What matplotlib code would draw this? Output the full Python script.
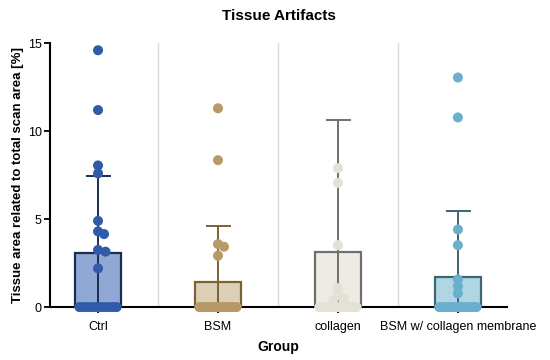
import numpy as np
import matplotlib
matplotlib.use("Agg")
import matplotlib.pyplot as plt

plt.rcParams['font.family'] = ['Liberation Sans', 'DejaVu Sans']

groups = ["Ctrl", "BSM", "collagen", "BSM w/ collagen membrane"]
means = [3.07, 1.42, 3.15, 1.72]
sds = [4.37, 3.18, 7.51, 3.75]
pts_ctrl = [14.6, 11.2, 8.05, 7.6, 4.9, 4.3, 4.15, 3.25, 3.15, 2.2] + [0.0] * 11
pts_bsm = [11.3, 8.35, 3.58, 3.43, 2.92] + [0.0] * 16
pts_col = [7.9, 7.06, 3.52, 1.08, 0.68, 0.5, 0.4] + [0.0] * 12
pts_bsmc = [13.05, 10.78, 4.41, 3.52, 1.57, 1.19, 0.78] + [0.0] * 14
points = [pts_ctrl, pts_bsm, pts_col, pts_bsmc]

point_colors = ["#2F5BAA", "#B89A68", "#E4E1D6", "#6AAFCB"]
fill_colors = ["#8FA9D4", "#DCCFB6", "#EEEBE4", "#B0D5E3"]
edge_colors = ["#1C2D52", "#7C6334", "#6F6F6F", "#3E6575"]

fig = plt.figure(figsize=(5.5, 3.6), dpi=100)
ax = fig.add_axes([0.091, 0.147, 0.831, 0.733])

bar_w = 0.39
x = np.arange(len(groups))

for i in range(3):
    ax.axvline(i + 0.5, color="#dcdcdc", lw=1.0, zorder=0)

ax.bar(x, means, width=bar_w, color=fill_colors, edgecolor=edge_colors,
       linewidth=1.6, zorder=2)
for i in range(len(groups)):
    ax.errorbar(x[i], means[i], yerr=sds[i], color=edge_colors[i], lw=1.4,
                capsize=9, capthick=1.4, zorder=3)

# simple swarm placement in pixel units
px_per_x = 120.0
px_per_y = 17.6
diam = 8.5
for i, vals in enumerate(points):
    vals = sorted(vals, reverse=True)
    nz = [v for v in vals if v > 0]
    zeros = [v for v in vals if v == 0]
    placed = []
    xs, ys = [], []
    for v in nz:
        yp = v * px_per_y
        chosen = 0.0
        for k in range(0, 30):
            for off in ([0.0] if k == 0 else [k * 1.5, -k * 1.5]):
                ok = all((off - px) ** 2 + (yp - py) ** 2 >= (diam * 0.75) ** 2
                         for px, py in placed)
                if ok:
                    chosen = off
                    break
            else:
                continue
            break
        placed.append((chosen, yp))
        xs.append(x[i] + chosen / px_per_x)
        ys.append(v)
    nzr = len(zeros)
    if nzr:
        offs = np.linspace(-0.155, 0.155, nzr)
        xs += list(x[i] + offs)
        ys += zeros
    ax.scatter(xs, ys, s=52, color=point_colors[i], edgecolor="none",
               zorder=4, clip_on=False)

ax.set_xlim(-0.4, 3.41)
ax.set_ylim(0, 15)
ax.set_yticks([0, 5, 10, 15])
ax.set_xticks(x)
ax.set_xticklabels(groups)
for s in ["top", "right"]:
    ax.spines[s].set_visible(False)
for s in ["left", "bottom"]:
    ax.spines[s].set_linewidth(1.5)
    ax.spines[s].set_zorder(1)
ax.tick_params(axis="both", width=1.3, length=4, labelsize=9, pad=2)
ax.tick_params(axis="x", pad=6)

ax.set_title("Tissue Artifacts", fontsize=11, fontweight="bold", pad=17)
ax.set_xlabel("Group", fontsize=10, fontweight="bold", labelpad=5)
ax.set_ylabel("Tissue area related to total scan area [%]", fontsize=9.5,
              fontweight="bold", labelpad=3)

fig.savefig("out.png", dpi=100)
